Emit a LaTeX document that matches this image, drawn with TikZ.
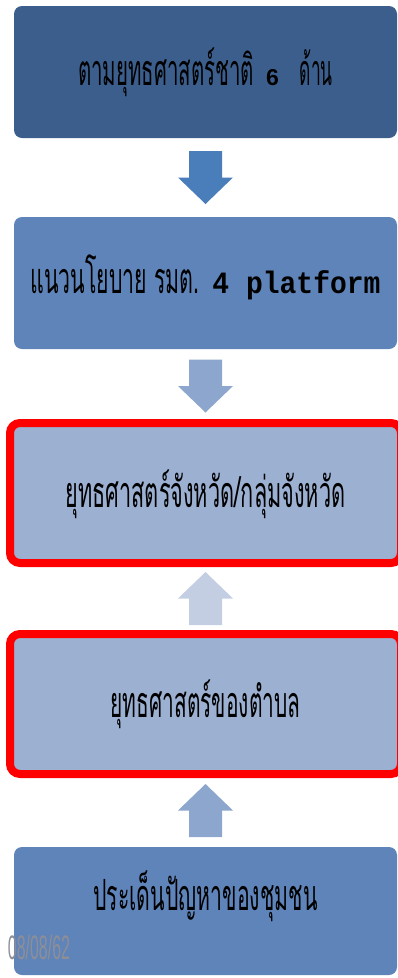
\documentclass[tikz,border=0pt]{standalone}
\usepackage{fontspec}
\usepackage{graphicx}
\usetikzlibrary{positioning,calc}
\newfontfamily\thaifont[Script=Thai]{Loma}
\newfontfamily\sansfont{Liberation Sans}
\newfontfamily\monofont{Liberation Mono}
\definecolor{navdark}{HTML}{3B5E8C}
\definecolor{navmid}{HTML}{5F84B9}
\definecolor{navlight}{HTML}{9CB0D2}
\definecolor{arrdark}{HTML}{4A7EBB}
\definecolor{arrmid}{HTML}{8CA6CD}
\definecolor{arrpale}{HTML}{C3CEE3}
\definecolor{dategrey}{HTML}{8E8E96}

\tikzset{pics/fatarrow/.style={code={
  \fill (-16.5,26.5) -- (16.5,26.5) -- (16.5,0) -- (27.5,0) -- (0,-26.5)
        -- (-27.5,0) -- (-16.5,0) -- cycle;}}}

\begin{document}
\begin{tikzpicture}[x=1pt,y=1pt,
  box/.style={rectangle,rounded corners=8pt,outer sep=0pt,inner sep=0pt,
              minimum width=383pt,minimum height=132pt},
  hlbox/.style={box,draw=red,line width=8pt,rounded corners=10pt,
              minimum width=391pt,minimum height=140pt},
  txt/.style={anchor=base,inner sep=0pt,font=\thaifont\fontsize{43}{48}\selectfont}
]
\useasboundingbox (0,0) rectangle (398,-978);
% กล่อง
\node[box,fill=navdark] (nat) at (205.5,-72) {};
\node[box,fill=navmid,below=79pt of nat] (pol) {};
\node[hlbox,fill=navlight,below=74pt of pol] (prov) {};
\node[hlbox,fill=navlight,below=71pt of prov] (tam) {};
\node[box,fill=navmid,minimum height=128pt,below=73pt of tam] (com) {};

% ลูกศร
\pic[fill=arrdark] at ($(nat.south)!.5!(pol.north)$) {fatarrow};
\pic[fill=arrmid] at ($(pol.south)!.5!(prov.north)$) {fatarrow};
\pic[fill=arrpale,rotate=180] at ($(prov.south)!.5!(tam.north)$) {fatarrow};
\pic[fill=arrmid,rotate=180] at ($(tam.south)!.5!(com.north)$) {fatarrow};

% ข้อความ
\node[txt] (t1) at ([yshift=-13pt]nat.center) {\resizebox{176pt}{\height}{ตามยุทธศาสตร์ชาติ}\hspace{12pt}{\sansfont\bfseries\fontsize{23}{26}\selectfont 6}\hspace{21pt}\resizebox{33pt}{\height}{ด้าน}};
\node[txt] (t2) at ([yshift=-10pt]pol.center) {\resizebox{169pt}{\height}{แนวนโยบาย รมต.}\hspace{13pt}{\monofont\bfseries\fontsize{31}{34}\selectfont\resizebox{168pt}{\height}{4 platform}}};
\node[txt] (t3) at ([yshift=-14pt]prov.center) {\resizebox{280pt}{\height}{ยุทธศาสตร์จังหวัด/กลุ่มจังหวัด}};
\node[txt] (t4) at ([yshift=-13pt]tam.center) {\resizebox{190pt}{\height}{ยุทธศาสตร์ของตำบล}};
\node[txt] (t5) at ([yshift=1pt]com.center) {\resizebox{224pt}{\height}{ประเด็นปัญหาของชุมชน}};

\node[inner sep=0pt,text=dategrey,font=\sansfont\fontsize{34}{36}\selectfont] (date) at (39,-947.5) {\resizebox{62pt}{\height}{08/08/62}};
\end{tikzpicture}
\end{document}
